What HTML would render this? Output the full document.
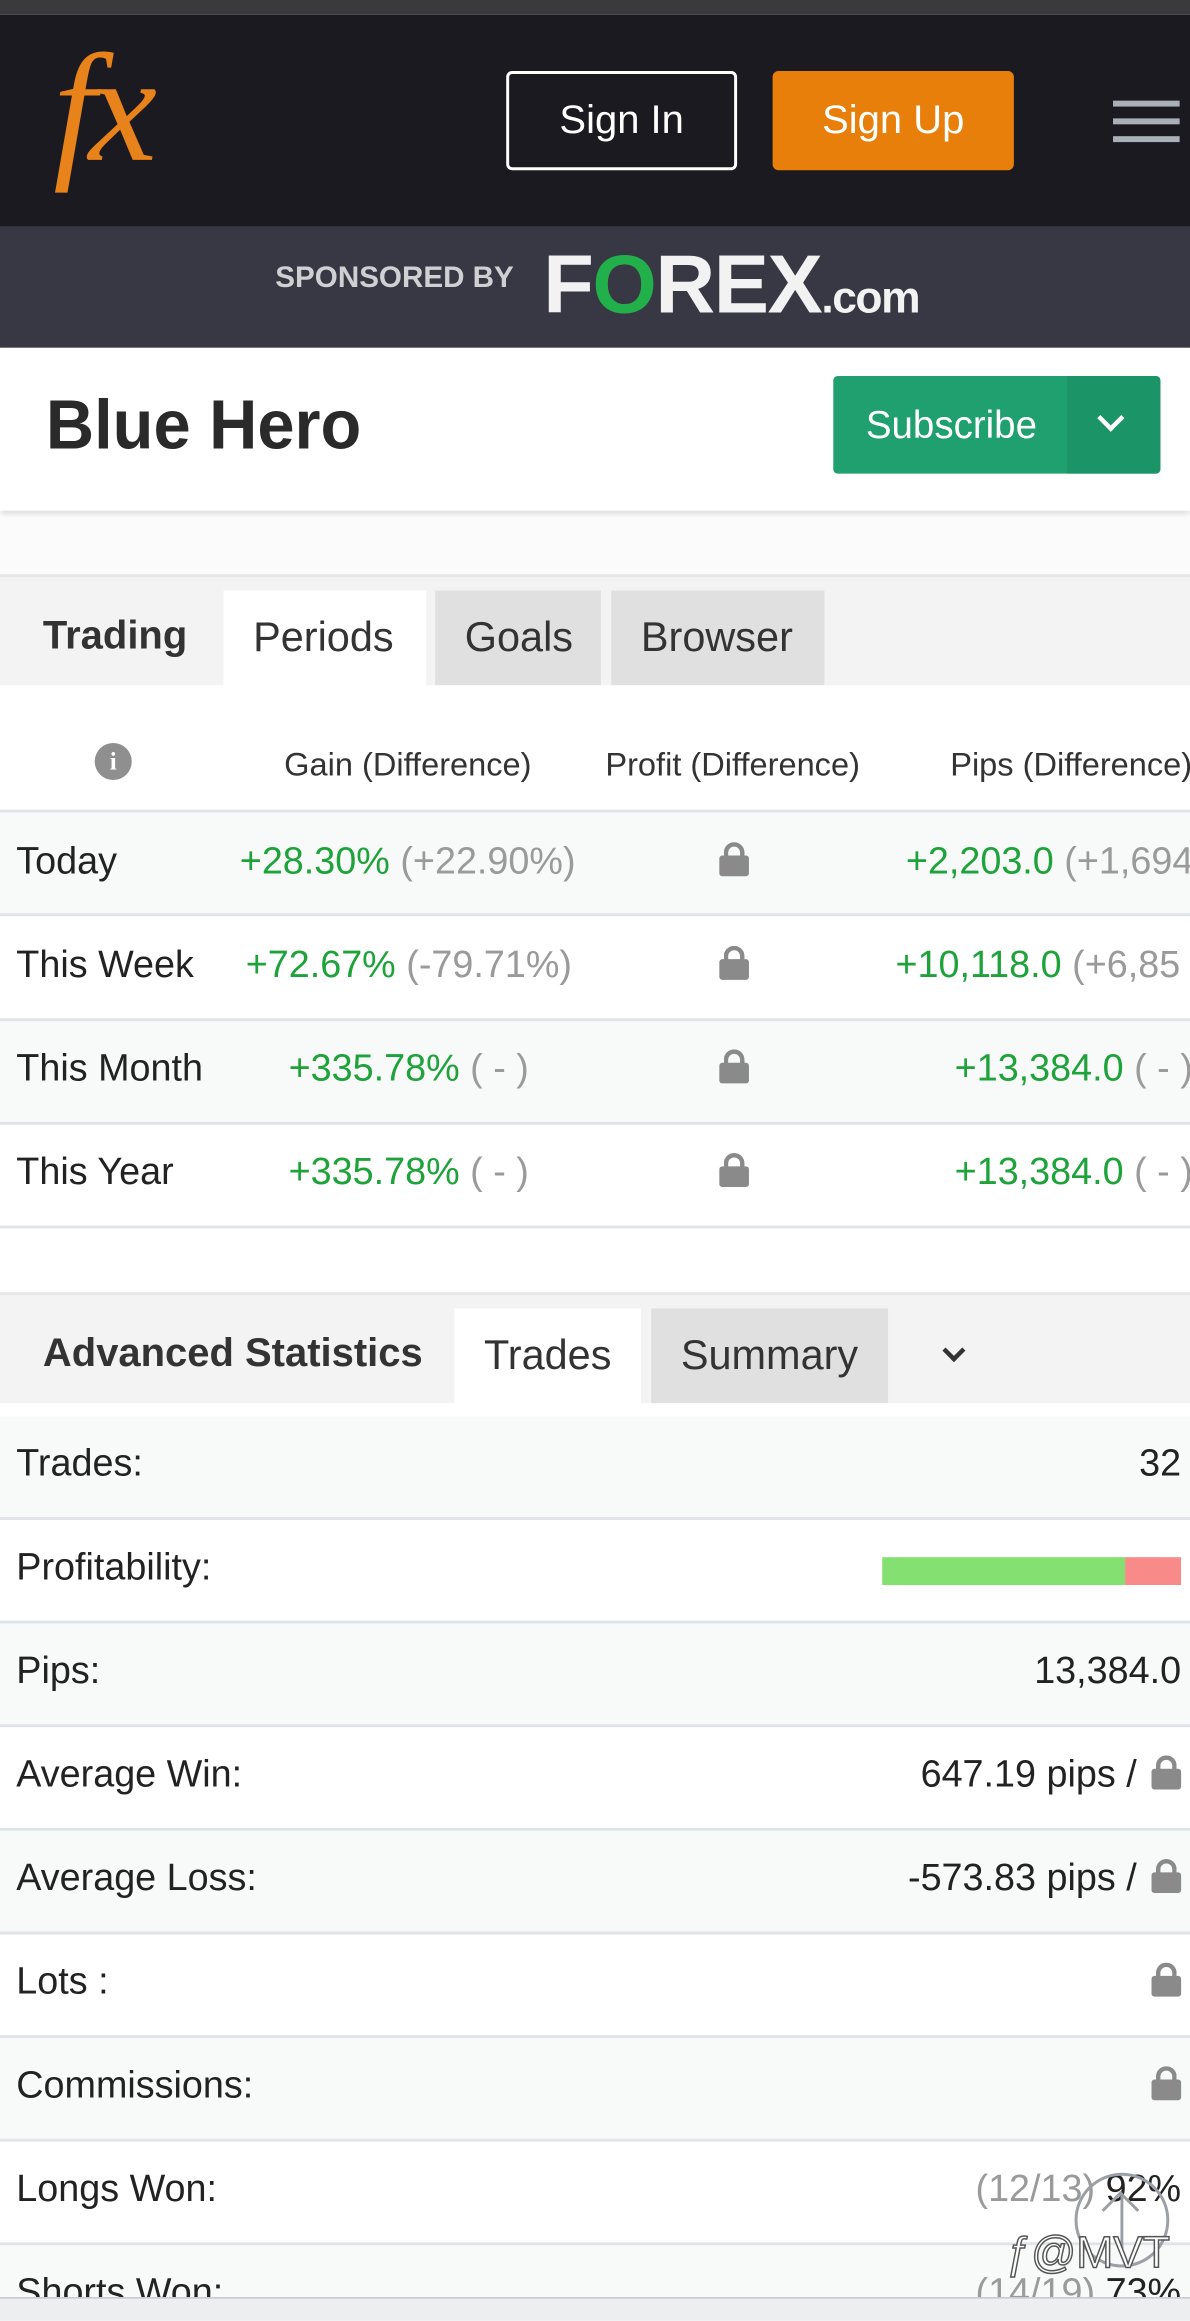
<!DOCTYPE html>
<html><head><meta charset="utf-8"><style>
html,body{margin:0;padding:0;width:1190px;height:2321px;overflow:hidden;background:#fff}
#s{position:absolute;left:0;top:0;width:804px;height:1568px;transform:scale(1.48010);transform-origin:0 0;font-family:"Liberation Sans",sans-serif;color:#222;overflow:hidden}
.a{position:absolute}
.t{position:absolute;white-space:nowrap}
.row{position:absolute;left:0;width:804px;height:68px;border-bottom:2px solid #dfe4e8}
.g{color:#1ea33a}.gr{color:#9a9a9a}
.lock{position:absolute;width:20px;height:14px;background:#8a8a8a;border-radius:2px}
.lock:before{content:"";position:absolute;left:3px;top:-9px;width:8px;height:10px;border:3px solid #8a8a8a;border-bottom:none;border-radius:7px 7px 0 0}
.r24{font-size:25.5px}
.rr{font-size:25.5px;text-align:right}
.tab{font-size:28px;color:#333}
</style></head><body>
<div id="s">
<div class="a" style="left:0;top:0;width:804px;height:10px;background:#3a3a3c"></div>
<div class="a" style="left:0;top:10px;width:804px;height:143px;background:#1b1a20">
 <div class="t" style="left:36px;top:4px;font-family:'Liberation Serif',serif;font-style:italic;font-size:104px;color:#e8821a;letter-spacing:-5px">fx</div>
 <div class="a" style="left:342px;top:38px;width:152px;height:63px;border:2px solid #fff;border-radius:4px;color:#fff;font-size:27px;text-align:center;line-height:63px">Sign In</div>
 <div class="a" style="left:522px;top:38px;width:163px;height:67px;background:#e77f0a;border-radius:4px;color:#fff;font-size:27px;text-align:center;line-height:67px">Sign Up</div>
 <div class="a" style="left:752px;top:58px;width:45px;height:30px">
  <div class="a" style="left:0;top:0;width:45px;height:4px;background:#a9b0b8"></div>
  <div class="a" style="left:0;top:12px;width:45px;height:4px;background:#a9b0b8"></div>
  <div class="a" style="left:0;top:24px;width:45px;height:4px;background:#a9b0b8"></div>
 </div>
</div>
<div class="a" style="left:0;top:153px;width:804px;height:82px;background:#383744">
 <div class="t" style="left:186px;top:24px;font-size:20px;font-weight:bold;color:#d0d0d4">SPONSORED BY</div>
 <div class="t" style="left:367px;top:6px;font-size:56px;font-weight:bold;color:#f2f2f2;letter-spacing:-1px">F<span style="color:#22b04b">O</span>REX<span style="font-size:30px">.com</span></div>
</div>
<div class="a" style="left:0;top:235px;width:804px;height:110px;background:#fff;box-shadow:0 3px 4px #e0e0e0">
 <div class="t" style="left:31px;top:24px;font-size:47px;font-weight:bold;color:#2a2a2a;transform:scaleX(0.96);transform-origin:0 0">Blue Hero</div>
 <div class="a" style="left:563px;top:19px;width:221px;height:66px;background:#1fa06e;border-radius:3px">
  <div class="t" style="left:22px;top:18px;font-size:26px;color:#fff">Subscribe</div>
  <div class="a" style="left:158px;top:0;width:63px;height:66px;background:#1b9467;border-radius:0 3px 3px 0">
   <div class="a" style="left:23px;top:22px;width:10px;height:10px;border-right:3px solid #fff;border-bottom:3px solid #fff;transform:rotate(45deg)"></div>
  </div>
 </div>
</div>
<div class="a" style="left:0;top:350px;width:804px;height:38px;background:#fbfbfb;border-bottom:2px solid #e6e6e6"></div>
<div class="a" style="left:0;top:390px;width:804px;height:73px;background:#f3f3f3">
 <div class="t" style="left:29px;top:24px;font-size:27px;font-weight:bold;color:#333">Trading</div>
 <div class="a" style="left:151px;top:9px;width:137px;height:64px;background:#fff"><div class="t tab" style="left:20px;top:16px">Periods</div></div>
 <div class="a" style="left:294px;top:9px;width:112px;height:64px;background:#e0e0e0"><div class="t tab" style="left:20px;top:16px">Goals</div></div>
 <div class="a" style="left:413px;top:9px;width:144px;height:64px;background:#e0e0e0"><div class="t tab" style="left:20px;top:16px">Browser</div></div>
</div>
<div class="a" style="left:0;top:463px;width:804px;height:84px;background:#fff;border-bottom:2px solid #dfe4e8">
 <div class="a" style="left:64px;top:39px;width:25px;height:25px;border-radius:50%;background:#8f8f8f;color:#fff;font-size:17px;font-weight:bold;text-align:center;line-height:25px;font-family:'Liberation Serif',serif">i</div>
 <div class="t" style="left:192px;top:41px;font-size:22px;color:#333">Gain (Difference)</div>
 <div class="t" style="left:409px;top:41px;font-size:22px;color:#333">Profit (Difference)</div>
 <div class="t" style="left:642px;top:41px;font-size:22px;color:#333">Pips (Difference)</div>
</div>
<div class="row" style="top:549px;background:#f8f9f9">
 <div class="t r24" style="left:11px;top:19px">Today</div>
 <div class="t r24" style="left:162px;top:19px"><span class="g">+28.30%</span> <span class="gr">(+22.90%)</span></div>
 <div class="lock" style="left:486px;top:29px"></div>
 <div class="t r24" style="left:612px;top:19px"><span class="g">+2,203.0</span> <span class="gr">(+1,694</span></div>
</div>
<div class="row" style="top:620px;background:#fff">
 <div class="t r24" style="left:11px;top:18px">This Week</div>
 <div class="t r24" style="left:166px;top:18px"><span class="g">+72.67%</span> <span class="gr">(-79.71%)</span></div>
 <div class="lock" style="left:486px;top:28px"></div>
 <div class="t r24" style="left:605px;top:18px"><span class="g">+10,118.0</span> <span class="gr">(+6,85</span></div>
</div>
<div class="row" style="top:690px;background:#f8f9f9">
 <div class="t r24" style="left:11px;top:18px">This Month</div>
 <div class="t r24" style="left:195px;top:18px"><span class="g">+335.78%</span> <span class="gr">( - )</span></div>
 <div class="lock" style="left:486px;top:28px"></div>
 <div class="t r24" style="left:645px;top:18px"><span class="g">+13,384.0</span> <span class="gr">( - )</span></div>
</div>
<div class="row" style="top:760px;background:#fff">
 <div class="t r24" style="left:11px;top:18px">This Year</div>
 <div class="t r24" style="left:195px;top:18px"><span class="g">+335.78%</span> <span class="gr">( - )</span></div>
 <div class="lock" style="left:486px;top:28px"></div>
 <div class="t r24" style="left:645px;top:18px"><span class="g">+13,384.0</span> <span class="gr">( - )</span></div>
</div>
<div class="a" style="left:0;top:873px;width:804px;height:73px;background:#f3f3f3;border-top:2px solid #e6e6e6">
 <div class="t" style="left:29px;top:24px;font-size:27px;font-weight:bold;color:#333">Advanced Statistics</div>
 <div class="a" style="left:307px;top:9px;width:126px;height:64px;background:#fff"><div class="t tab" style="left:20px;top:16px">Trades</div></div>
 <div class="a" style="left:440px;top:9px;width:160px;height:64px;background:#e0e0e0"><div class="t tab" style="left:20px;top:16px">Summary</div></div>
 <div class="a" style="left:639px;top:32px;width:8px;height:8px;border-right:3px solid #333;border-bottom:3px solid #333;transform:rotate(45deg)"></div>
</div>
<div class="row" style="top:957px;height:68px;background:#f8f9f9">
 <div class="t r24" style="left:11px;top:18px">Trades:</div>
 <div class="t rr" style="right:6px;top:18px">32</div>
</div>
<div class="row" style="top:1027px;background:#fff">
 <div class="t r24" style="left:11px;top:18px">Profitability:</div>
 <svg id="pbar" class="a" style="left:596px;top:25px" width="202" height="19"></svg>
</div>
<div class="row" style="top:1097px;background:#f8f9f9">
 <div class="t r24" style="left:11px;top:18px">Pips:</div>
 <div class="t rr" style="right:6px;top:18px">13,384.0</div>
</div>
<div class="row" style="top:1167px;background:#fff">
 <div class="t r24" style="left:11px;top:18px">Average Win:</div>
 <div class="t rr" style="right:36px;top:18px">647.19 pips /</div>
 <div class="lock" style="left:778px;top:28px"></div>
</div>
<div class="row" style="top:1237px;background:#f8f9f9">
 <div class="t r24" style="left:11px;top:18px">Average Loss:</div>
 <div class="t rr" style="right:36px;top:18px">-573.83 pips /</div>
 <div class="lock" style="left:778px;top:28px"></div>
</div>
<div class="row" style="top:1307px;background:#fff">
 <div class="t r24" style="left:11px;top:18px">Lots :</div>
 <div class="lock" style="left:778px;top:28px"></div>
</div>
<div class="row" style="top:1377px;background:#f8f9f9">
 <div class="t r24" style="left:11px;top:18px">Commissions:</div>
 <div class="lock" style="left:778px;top:28px"></div>
</div>
<div class="row" style="top:1447px;background:#fff">
 <div class="t r24" style="left:11px;top:18px">Longs Won:</div>
 <div class="t rr" style="right:6px;top:18px"><span class="gr">(12/13)</span> 92%</div>
</div>
<div class="row" style="top:1517px;background:#f8f9f9">
 <div class="t r24" style="left:11px;top:18px">Shorts Won:</div>
 <div class="t rr" style="right:6px;top:18px"><span class="gr">(14/19)</span> 73%</div>
</div>
<div class="a" style="left:726px;top:1468px;width:60px;height:60px;border:2px solid #9aa0a6;border-radius:50%">
 <div class="a" style="left:29px;top:12px;width:2px;height:40px;background:#9aa0a6"></div>
 <div class="a" style="left:20px;top:14px;width:16px;height:16px;border-left:2px solid #9aa0a6;border-top:2px solid #9aa0a6;transform:rotate(45deg)"></div>
</div>
<div class="t" style="left:680px;top:1506px;font-size:30px;color:#fff;-webkit-text-stroke:1px #555">ƒ@MVT</div>
<div class="a" style="left:0;top:1552px;width:804px;height:16px;background:#eceef0;border-top:1px solid #c8c8c8"></div>
</div>
<script>
const outcomeLabels = ["Won", "Lost"];
const outcomeCounts = [26, 6];
const outcomeColors = ["#84e070", "#f88a8a"];
const svg = document.getElementById('pbar');
const W = 202, H = 19;
const total = outcomeCounts.reduce((a, b) => a + b, 0);
const xScale = v => v / total * W;
let acc = 0;
outcomeCounts.forEach((c, i) => {
  const r = document.createElementNS('http://www.w3.org/2000/svg', 'rect');
  r.setAttribute('x', xScale(acc));
  r.setAttribute('y', 0);
  r.setAttribute('width', xScale(c));
  r.setAttribute('height', H);
  r.setAttribute('fill', outcomeColors[i]);
  
  
  svg.appendChild(r);
  acc += c;
});
</script>
</body></html>
